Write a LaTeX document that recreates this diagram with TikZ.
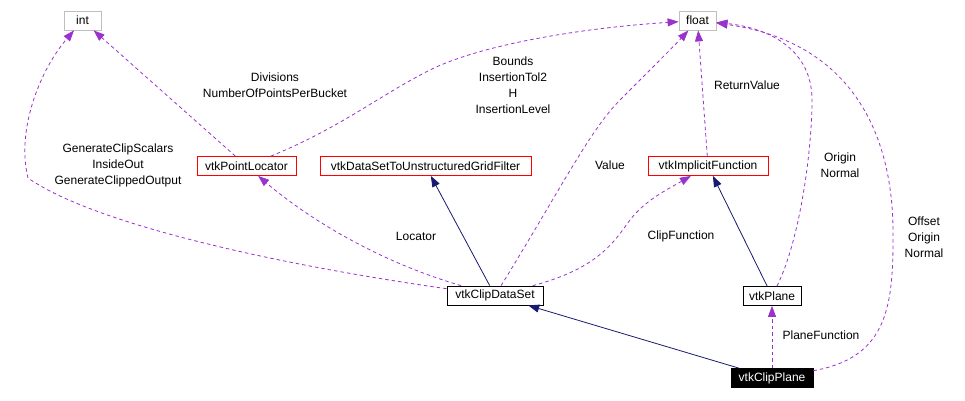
\documentclass[tikz,border=0pt]{standalone}
\usepackage{fontspec}
\setmainfont{Liberation Sans}
\usepackage{xcolor}
\usetikzlibrary{arrows.meta,calc}
\definecolor{edgepurple}{HTML}{9A32CD}
\definecolor{navyline}{HTML}{191970}
\definecolor{boxgray}{HTML}{BFBFBF}
\begin{document}
\begin{tikzpicture}[x=1pt,y=-1pt,font=\fontsize{12}{16}\selectfont,
  cls/.style={draw,line width=0.8pt,minimum height=19pt,inner sep=2pt,fill=white},
  prim/.style={cls,draw=boxgray},
  undoc/.style={cls,draw=red},
  doc/.style={cls,draw=black},
  self/.style={cls,draw=black,fill=black,text=white},
  lbl/.style={align=center,inner sep=1pt},
  dep/.style={-{Triangle[length=11pt,width=8pt,fill=edgepurple]},draw=edgepurple,
              line width=0.8pt,dash pattern=on 3.5pt off 3pt},
  inh/.style={-{Triangle[length=11pt,width=8pt,fill=navyline]},draw=navyline,line width=0.8pt}]
\useasboundingbox (0,0) rectangle (965,400);
% classes
\node[prim,minimum width=37pt] (int) at (82.5,20.5) {int};
\node[prim,minimum width=37pt] (fl) at (697.5,20.5) {float};
\node[undoc,minimum width=99pt] (pl) at (246.5,166) {vtkPointLocator};
\node[undoc,minimum width=211pt] (filt) at (425.5,166) {vtkDataSetToUnstructuredGridFilter};
\node[undoc,minimum width=120pt] (impl) at (708,166) {vtkImplicitFunction};
\node[doc,minimum width=96pt] (cds) at (495,295.5) {vtkClipDataSet};
\node[doc,minimum width=58pt] (plane) at (772,296) {vtkPlane};
\node[self,minimum width=82pt] (cp) at (772,378) {vtkClipPlane};
% members
\draw[dep] (cds) .. controls (300,268) and (100,228) .. (28,178)
  .. controls (16,130) and (40,70) .. (int);
\draw[dep] (pl) -- (int);
\draw[dep] (pl) .. controls (340,128) and (380,95) .. (430,70)
  .. controls (480,45) and (580,28) .. (fl);
\draw[dep] (cds) .. controls (380,262) and (310,220) .. (pl);
\draw[dep] (cds) .. controls (560,190) and (590,130) .. (620,100)
  .. controls (650,70) and (675,45) .. (fl);
\draw[dep] (cds) .. controls (600,268) and (615,240) .. (630,220)
  .. controls (645,200) and (670,188) .. (impl);
\draw[dep] (impl) -- (fl);
\draw[dep] (plane) .. controls (800,240) and (812,150) .. (812,100)
  .. controls (812,50) and (770,28) .. (fl);
\draw[dep] (cp) -- (plane);
\draw[dep] (cp) .. controls (885,358) and (893,310) .. (893,240)
  .. controls (895,120) and (840,40) .. (fl);
% inheritance
\draw[inh] (cds) -- (filt);
\draw[inh] (plane) -- (impl);
\draw[inh] (cp) -- (cds);
% labels
\node[lbl] (lgen) at (118,165) {GenerateClipScalars\\InsideOut\\GenerateClippedOutput};
\node[lbl] (ldiv) at (275,85) {Divisions\\NumberOfPointsPerBucket};
\node[lbl] (lbnd) at (513,85) {Bounds\\InsertionTol2\\H\\InsertionLevel};
\node[lbl] (lloc) at (416,236) {Locator};
\node[lbl] (lval) at (610,165) {Value};
\node[lbl] (lclip) at (681,236) {ClipFunction};
\node[lbl] (lret) at (747,85) {ReturnValue};
\node[lbl] (lon) at (840,165) {Origin\\Normal};
\node[lbl] (loon) at (924,237) {Offset\\Origin\\Normal};
\node[lbl] (lpf) at (821,335) {PlaneFunction};
\end{tikzpicture}
\end{document}
